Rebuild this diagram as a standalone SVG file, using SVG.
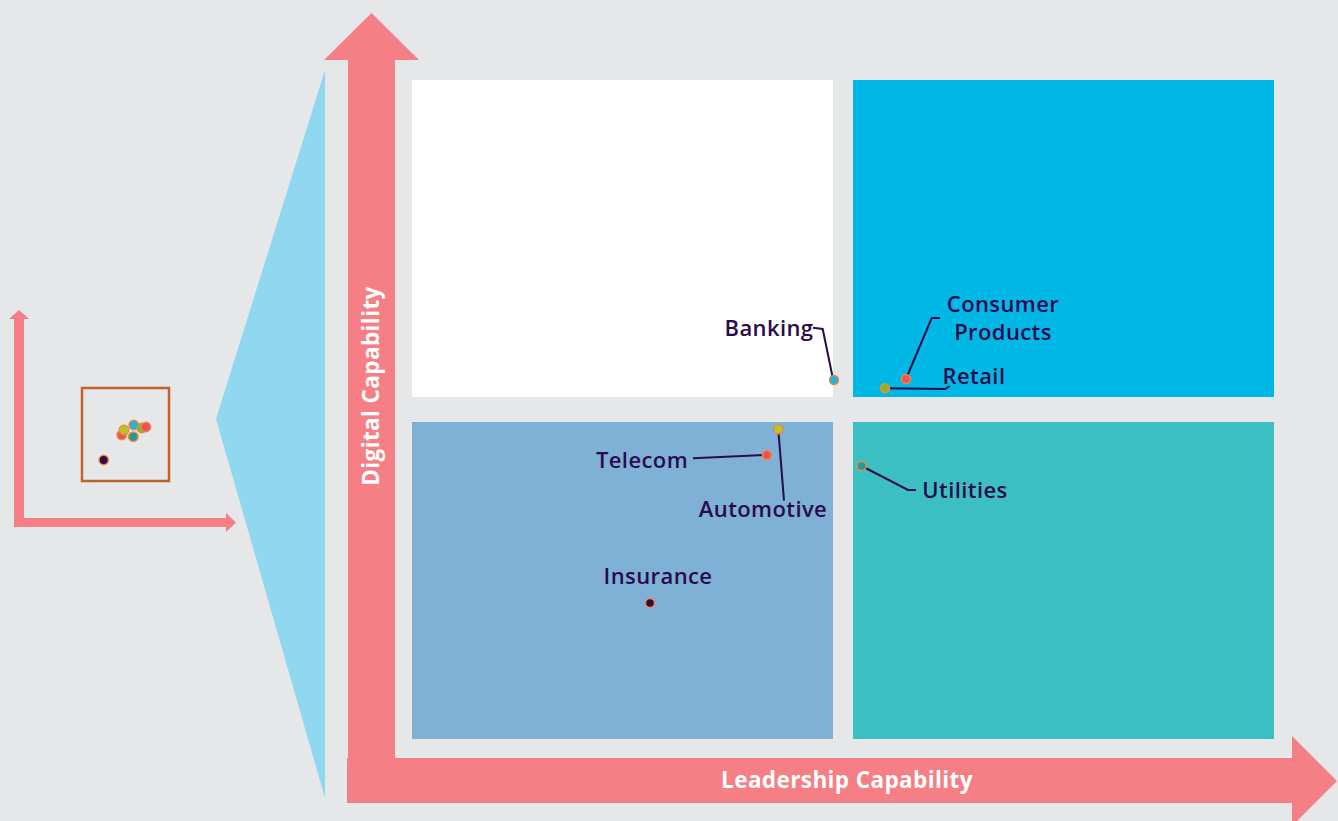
<svg xmlns="http://www.w3.org/2000/svg" width="1338" height="821" viewBox="0 0 1338 821">
<style>
.lbl{font-family:"Open Sans","Noto Sans",sans-serif;font-weight:600;font-size:22px;letter-spacing:0.4px;fill:#2B0B4D}
.axl{font-family:"Open Sans","Noto Sans",sans-serif;font-weight:700;font-size:22.5px;letter-spacing:0.4px;fill:#FFFFFF}
.arr{fill:#F57F84}
.dot{stroke:#F0883A;stroke-width:1.5}
.lead{fill:none;stroke:#2B0B4D;stroke-width:2}
</style>
<rect width="1338" height="821" fill="#E6E7E9"/>
<g id="mini-chart">
<polygon class="arr" points="14,319 9,319 19,310 29,319 24,319 24,518 226,518 226,513 236,522.5 226,532 226,527 14,527"/>
<rect x="82" y="388" width="87" height="93" fill="none" stroke="#C0622D" stroke-width="2.5"/>
<circle class="dot" cx="103.7" cy="460" r="4.7" fill="#2B0B4D"/>
<circle class="dot" cx="121.7" cy="435" r="4.7" fill="#F0505A"/>
<circle class="dot" cx="124" cy="430" r="4.7" fill="#B5C82A"/>
<circle class="dot" cx="141.7" cy="428" r="4.7" fill="#7DB83A"/>
<circle class="dot" cx="146" cy="427" r="4.7" fill="#F0505A"/>
<circle class="dot" cx="133.3" cy="436.7" r="4.7" fill="#1A9E9E"/>
<circle class="dot" cx="133.7" cy="425" r="4.7" fill="#1BB5E0"/>
</g>
<g id="zoom-wedge">
<polygon points="325,70 325,798 216,419" fill="#8FD8F0"/>
</g>
<g id="quadrants">
<rect id="q-tl" x="412" y="80" width="421" height="317" fill="#FFFFFF"/>
<rect id="q-tr" x="853" y="80" width="421" height="317" fill="#00B8E6"/>
<rect id="q-bl" x="412" y="422" width="421" height="317" fill="#7FB1D6"/>
<rect id="q-br" x="853" y="422" width="421" height="317" fill="#3BBFC3"/>
</g>
<g id="axes">
<polygon class="arr" points="348,758 348,60 324,60 371.5,13 419,60 395,60 395,758 1292,758 1292,736 1337,781 1292,826 1292,803 347,803 347,758"/>
<text class="axl" x="847" y="788" text-anchor="middle">Leadership Capability</text>
<text class="axl" transform="translate(379,386) rotate(-90)" text-anchor="middle">Digital Capability</text>
</g>
<g id="connectors">
<polyline class="lead" points="813,327.7 822.7,329 833,379"/>
<polyline class="lead" points="906,379 931.7,318 940,318"/>
<polyline class="lead" points="885,388.3 945,389 950,386"/>
<polyline class="lead" points="693,458.3 766.7,455"/>
<polyline class="lead" points="778.3,429.3 784,500.7"/>
<polyline class="lead" points="861.7,466 908,490 916,490"/>
</g>
<g id="banking"><circle class="dot" cx="834" cy="380" r="4.5" fill="#1BB5E0"/><text class="lbl" x="769" y="336" text-anchor="middle">Banking</text></g>
<g id="consumer-products"><circle class="dot" cx="906" cy="379" r="4.5" fill="#F0505A"/><text class="lbl" x="1003" y="312" text-anchor="middle">Consumer</text><text class="lbl" x="1003" y="340" text-anchor="middle">Products</text></g>
<g id="retail"><circle class="dot" cx="885" cy="388.3" r="4.5" fill="#7DB83A"/><text class="lbl" x="974" y="384" text-anchor="middle">Retail</text></g>
<g id="telecom"><circle class="dot" cx="767" cy="455" r="4.5" fill="#F0505A"/><text class="lbl" x="642" y="468" text-anchor="middle">Telecom</text></g>
<g id="automotive"><circle class="dot" cx="778.3" cy="429.3" r="4.5" fill="#B5C82A"/><text class="lbl" x="763" y="517" text-anchor="middle">Automotive</text></g>
<g id="utilities"><circle class="dot" cx="861.7" cy="466" r="4.5" fill="#1A9E9E"/><text class="lbl" x="965" y="498" text-anchor="middle">Utilities</text></g>
<g id="insurance"><circle class="dot" cx="650" cy="603" r="4.5" fill="#2B0B4D"/><text class="lbl" x="658" y="584" text-anchor="middle">Insurance</text></g>
</svg>
